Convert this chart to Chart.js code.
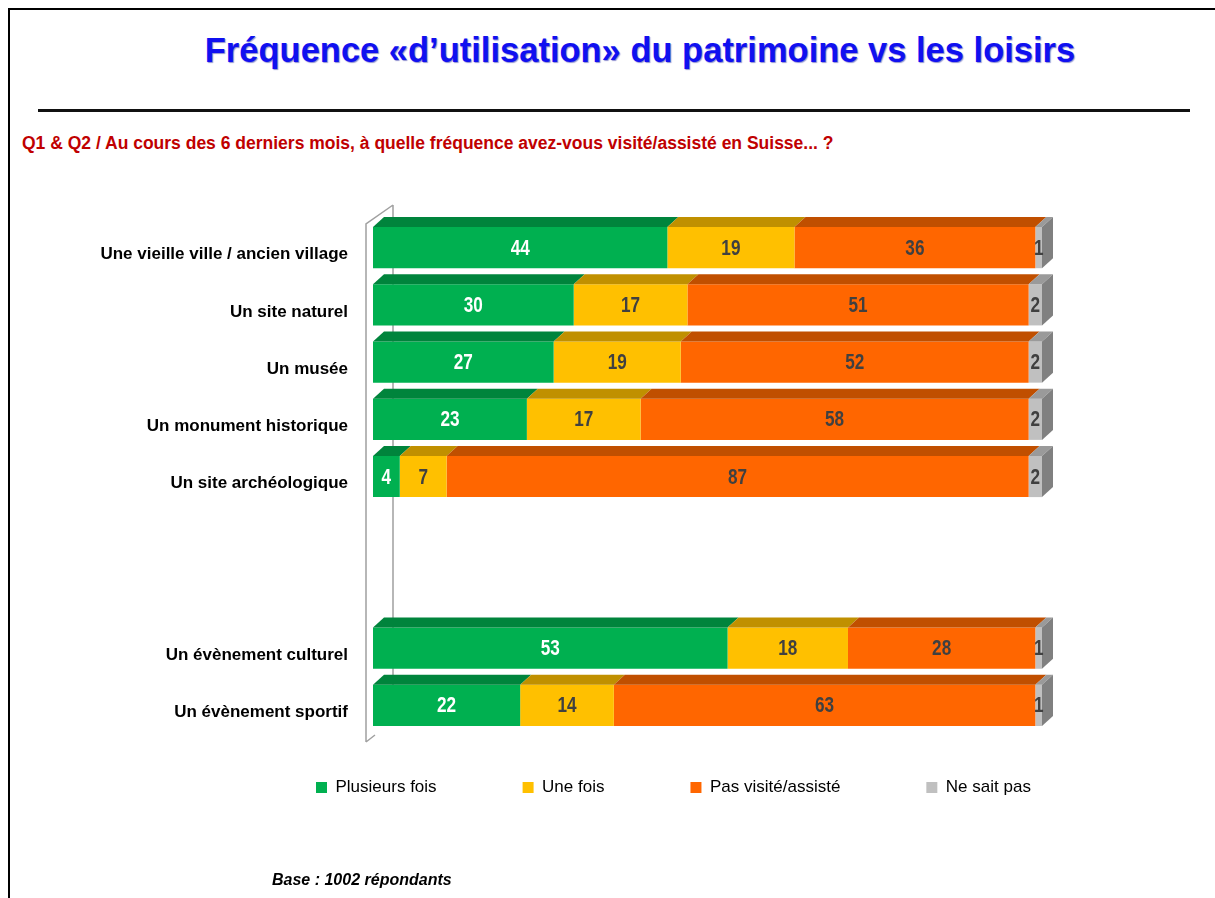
<!DOCTYPE html>
<html lang="fr">
<head>
<meta charset="utf-8">
<script src="https://cdn.jsdelivr.net/npm/chart.js@4.4.1/dist/chart.umd.min.js"></script>
<style>
  html, body { margin: 0; padding: 0; background: #fff; }
  body { width: 1215px; height: 898px; position: relative; overflow: hidden; font-family: "Liberation Sans", Arial, sans-serif; }
  #frame { position: absolute; left: 8px; top: 8px; width: 1220px; height: 900px; border-left: 2px solid #000; border-top: 2px solid #000; }
  #title { position: absolute; left: 0; width: 1280px; top: 31px; text-align: center; font-weight: bold; font-size: 34.5px; color: #1010f0; text-shadow: 1px 1px 1px #9090d0; }
  #rule { position: absolute; left: 38px; top: 109px; width: 1152px; height: 0; border-top: 3px solid #111; }
  #question { position: absolute; left: 22px; top: 133px; font-weight: bold; font-size: 17.5px; color: #c00000; }
  #base { position: absolute; left: 272px; top: 871px; font-weight: bold; font-style: italic; font-size: 16px; color: #000; }
  #wrap { position: absolute; left: 0; top: 0; width: 1215px; height: 898px; }
</style>
</head>
<body>
<div id="frame"></div>
<div id="title">Fréquence «d’utilisation» du patrimoine vs les loisirs</div>
<div id="rule"></div>
<div id="question">Q1 &amp; Q2 / Au cours des 6 derniers mois, à quelle fréquence avez-vous visité/assisté en Suisse... ?</div>
<div id="wrap"><canvas id="freqChart" width="1215" height="898"></canvas></div>
<div id="base">Base : 1002 répondants</div>
<script>
// catégories (deux lignes vides pour l'espace entre patrimoine et loisirs)
var categories = [
    'Une vieille ville / ancien village',
    'Un site naturel',
    'Un musée',
    'Un monument historique',
    'Un site archéologique',
    '',
    '',
    'Un évènement culturel',
    'Un évènement sportif'
];
var seriesNames = ['Plusieurs fois', 'Une fois', 'Pas visité/assisté', 'Ne sait pas'];
var plusieursFois = [44, 30, 27, 23, 4, null, null, 53, 22];
var uneFois = [19, 17, 19, 17, 7, null, null, 18, 14];
var pasVisite = [36, 51, 52, 58, 87, null, null, 28, 63];
var neSaitPas = [1, 2, 2, 2, 2, null, null, 1, 1];
var axisTicks = [0, 100];

var frontColors = ['#00b050', '#ffc000', '#ff6600', '#c0c0c0'];
var topColors = ['#00843c', '#c09000', '#c04f00', '#9a9a9a'];
var labelColors = ['#ffffff', '#404040', '#404040', '#404040'];
var DX = 11, DY = 10;

// effet 3D + étiquettes de valeurs
var depthPlugin = {
    id: 'depth',
    afterLayout: function (chart) {
        // rapproche la légende du graphique et la cale à gauche
        var lg = chart.legend;
        var dy = -41;
        lg.top += dy; lg.bottom += dy;
        var dx = 230 - lg.left;
        lg.left += dx; lg.right += dx;
    },
    beforeDatasetsDraw: function (chart) {
        var ctx = chart.ctx, ca = chart.chartArea;
        var fx = ca.left - 7, bx = ca.left + 20;
        ctx.save();
        ctx.strokeStyle = '#a0a0a0';
        ctx.lineWidth = 1.5;
        ctx.beginPath();
        ctx.moveTo(bx, ca.top - 14);
        ctx.lineTo(bx, ca.bottom - 8);
        ctx.moveTo(fx, ca.bottom + 8);
        ctx.lineTo(fx, ca.top + 5);
        ctx.lineTo(bx, ca.top - 14);
        ctx.moveTo(fx, ca.bottom + 8);
        ctx.lineTo(fx + 9, ca.bottom + 1);
        ctx.stroke();
        ctx.restore();
    },
    afterDatasetsDraw: function (chart) {
        var ctx = chart.ctx;
        var n = chart.data.labels.length;
        ctx.save();
        for (var i = 0; i < n; i++) {
            var last = null;
            chart.data.datasets.forEach(function (ds, d) {
                var bar = chart.getDatasetMeta(d).data[i];
                if (ds.data[i] == null || !bar) return;
                var p = bar.getProps(['x', 'y', 'base', 'height'], true);
                var top = p.y - p.height / 2;
                ctx.fillStyle = topColors[d];
                ctx.beginPath();
                ctx.moveTo(p.base, top);
                ctx.lineTo(p.base + DX, top - DY);
                ctx.lineTo(p.x + DX, top - DY);
                ctx.lineTo(p.x, top);
                ctx.closePath();
                ctx.fill();
                last = p;
            });
            if (last) {
                var t = last.y - last.height / 2, b = last.y + last.height / 2;
                ctx.fillStyle = '#808080';
                ctx.beginPath();
                ctx.moveTo(last.x, t);
                ctx.lineTo(last.x + DX, t - DY);
                ctx.lineTo(last.x + DX, b - DY);
                ctx.lineTo(last.x, b);
                ctx.closePath();
                ctx.fill();
            }
        }
        // chiffres étroits : police normale compressée horizontalement
        ctx.font = 'bold 22px "Liberation Sans", Arial, sans-serif';
        ctx.textAlign = 'center';
        ctx.textBaseline = 'middle';
        chart.data.datasets.forEach(function (ds, d) {
            chart.getDatasetMeta(d).data.forEach(function (bar, i) {
                if (ds.data[i] == null) return;
                var p = bar.getProps(['x', 'y', 'base'], true);
                ctx.save();
                ctx.translate((p.x + p.base) / 2, p.y + 1);
                ctx.scale(0.78, 1);
                ctx.fillStyle = labelColors[d];
                ctx.fillText(String(ds.data[i]), 0, 0);
                ctx.restore();
            });
        });
        ctx.restore();
    }
};

var seriesValues = [plusieursFois, uneFois, pasVisite, neSaitPas];

var ctx = document.getElementById('freqChart').getContext('2d');
var chart = new Chart(ctx, {
    type: 'bar',
    data: {
        labels: categories,
        datasets: seriesValues.map(function (vals, k) {
            return {
                label: seriesNames[k],
                data: vals,
                backgroundColor: frontColors[k],
                borderWidth: 0,
                barPercentage: 0.72,
                categoryPercentage: 1
            };
        })
    },
    options: {
        indexAxis: 'y',
        responsive: false,
        animation: false,
        layout: { padding: { top: 219, left: 0, right: 173, bottom: 51 } },
        scales: {
            x: {
                stacked: true,
                display: false,
                min: axisTicks[0],
                max: axisTicks[1]
            },
            y: {
                stacked: true,
                grid: { display: false },
                border: { display: false },
                afterFit: function (scale) { scale.width = 373; },
                ticks: {
                    color: '#000',
                    padding: 17,
                    labelOffset: 7,
                    font: { family: '"Liberation Sans", Arial, sans-serif', size: 17, weight: 'bold' }
                }
            }
        },
        plugins: {
            legend: {
                position: 'bottom',
                align: 'start',
                labels: {
                    boxWidth: 11,
                    boxHeight: 11,
                    padding: 86,
                    color: '#000',
                    font: { family: '"Liberation Sans", Arial, sans-serif', size: 17 }
                }
            },
            tooltip: { enabled: false }
        }
    },
    plugins: [depthPlugin]
});
</script>
</body>
</html>
